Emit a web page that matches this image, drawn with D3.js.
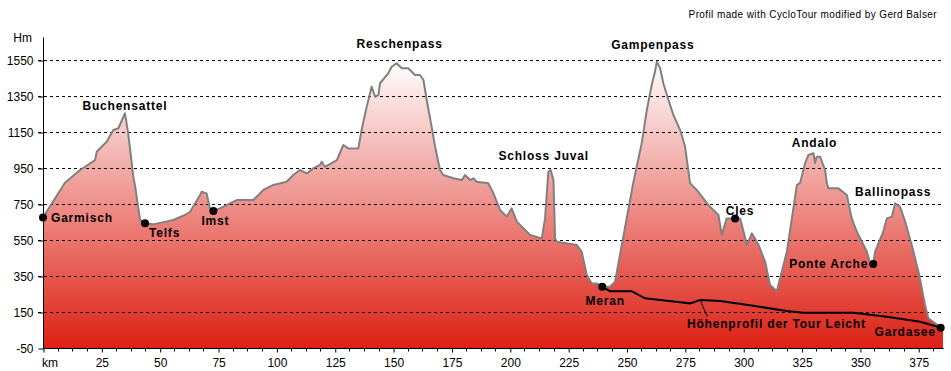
<html>
<script src='https://d3js.org/d3.v7.min.js'></script>
<style>
body { margin: 0; background-color: #ffffff; }
.tick text, .ylab { font: 12px 'Liberation Sans', Arial, sans-serif; fill: #000; }
.place { font: bold 12px 'Liberation Sans', Arial, sans-serif; letter-spacing: 0.8px; fill: #000; }
.credit { font: 10px 'Liberation Sans', Arial, sans-serif; letter-spacing: 0.4px; fill: #000; }
</style>
<body onload='init()'>
<script>

// profile of the tour (km, Hm)
var profKm = [0, 9.4, 15.9, 22.3, 23.0, 27.3, 30.1, 32.3, 35.1, 36.5, 38.7, 39.4, 41.6, 43.7, 47.3, 55.8, 60.8, 63.0, 67.3, 68.0,
  70.1, 71.5, 73.0, 75.8, 83.0, 90.1, 94.4, 98.7, 104.4, 107.2, 110.1, 113.0, 115.8, 118.7, 119.4, 120.8, 125.9, 128.7, 130.8, 135.1,
  136.5, 138.7, 140.8, 142.3, 143.7, 144.4, 147.9, 149.4, 151.5, 153.7, 156.5, 159.4, 161.5, 163.0, 164.4, 166.5, 168.0, 170.1, 171.5, 175.8,
  179.4, 180.8, 183.0, 184.4, 185.8, 190.8, 193.0, 195.8, 198.7, 200.8, 203.0, 208.7, 213.7, 215.1, 216.5, 217.5, 218.7, 219.4, 220.1, 228.7,
  230.8, 233.0, 235.1, 237.3, 239.6, 242.9, 245.1, 247.2, 252.9, 256.5, 258.7, 260.8, 262.2, 263.0, 264.4, 265.8, 268.0, 270.1, 273.0, 275.1,
  277.2, 278.0, 280.1, 285.1, 289.4, 290.8, 292.9, 296.5, 298.7, 301.6, 303.7, 306.6, 309.4, 311.5, 314.4, 315.8, 318.7, 321.5, 323.0, 324.4,
  326.5, 327.9, 330.1, 330.8, 331.5, 332.9, 335.1, 335.8, 336.5, 340.8, 344.4, 346.5, 348.7, 353.0, 354.4, 355.7, 356.5, 360.0, 361.5, 363.7,
  365.1, 367.2, 369.4, 372.2, 375.1, 377.9, 379.3, 384.3, 385.6];
var profElev = [675, 868, 939, 994, 1040, 1096, 1161, 1171, 1254, 1143, 902, 855, 661, 643, 637, 661, 689, 707, 800, 818,
  809, 726, 711, 726, 772, 772, 828, 856, 874, 911, 939, 920, 948, 967, 985, 957, 994, 1078, 1059, 1059,
  1161, 1291, 1402, 1346, 1356, 1421, 1476, 1513, 1532, 1504, 1504, 1467, 1467, 1439, 1328, 1180, 1068, 939, 911, 893,
  883, 911, 883, 893, 874, 865, 809, 717, 680, 726, 652, 578, 559, 670, 929, 939, 883, 559, 541, 522,
  485, 355, 309, 309, 290, 290, 318, 467, 868, 1087, 1272, 1411, 1485, 1541, 1504, 1420, 1328, 1244, 1161, 1068,
  868, 855, 828, 744, 689, 578, 670, 670, 670, 522, 587, 522, 429, 300, 267, 337, 485, 726, 855, 868,
  976, 1022, 1032, 978, 1013, 1013, 939, 868, 837, 837, 800, 670, 596, 485, 420, 417, 485, 596, 670, 680,
  754, 735, 652, 522, 374, 189, 115, 68, 61];

// "Tour Leicht" profile
var lightKm = [239.6, 242.9, 247.2, 252.2, 257.9, 272.9, 277.2, 281.5, 290.1, 304.3, 318.6, 325.7, 347.2, 361.5, 375.8, 384.6];
var lightElev = [290, 266, 266, 266, 226, 204, 198, 217, 211, 185, 155, 146, 146, 124, 96, 63];

// places
var placeNames = ['Garmisch', 'Telfs', 'Imst', 'Meran', 'Cles', 'Ponte Arche', 'Gardasee'];
var placeKm = [0, 43.7, 73.0, 239.6, 296.5, 355.7, 384.6];
var placeElev = [675, 643, 711, 290, 670, 417, 63];

// passes (label only)
var passNames = ['Buchensattel', 'Reschenpass', 'Schloss Juval', 'Gampenpass', 'Andalo', 'Ballinopass'];
var passKm = [35.1, 151.5, 217.5, 263.0, 330.1, 365.1];
var passElev = [1254, 1532, 939, 1541, 1032, 754];

var yTicks = [-50, 150, 350, 550, 750, 950, 1150, 1350, 1550];
var xTicks = [0, 25, 50, 75, 100, 125, 150, 175, 200, 225, 250, 275, 300, 325, 350, 375];

function init() {
  var W = 951, H = 371;
  var x = d3.scaleLinear().domain([0, 385.6]).range([43, 943]);
  var y = d3.scaleLinear().domain([-50, 1678]).range([348, 37]);

  var svg = d3.select('body').append('svg').attr('width', W).attr('height', H);

  var grad = svg.append('defs').append('linearGradient')
    .attr('id', 'fillGrad').attr('gradientUnits', 'userSpaceOnUse')
    .attr('x1', 0).attr('x2', 0).attr('y1', y(1550)).attr('y2', y(-50));
  grad.append('stop').attr('offset', '0%').attr('stop-color', '#ffffff');
  grad.append('stop').attr('offset', '100%').attr('stop-color', '#dd2014');

  var prof = profKm.map(function(k, i) { return [k, profElev[i]]; });
  var light = lightKm.map(function(k, i) { return [k, lightElev[i]]; });

  var area = d3.area().x(function(d) { return x(d[0]); }).y0(y(-50)).y1(function(d) { return y(d[1]); });
  var line = d3.line().x(function(d) { return x(d[0]); }).y(function(d) { return y(d[1]); });

  svg.append('path').attr('d', area(prof)).attr('fill', 'url(#fillGrad)');

  // gridlines
  svg.selectAll('.grid').data(yTicks.slice(1)).enter().append('line')
    .attr('x1', 38).attr('x2', 942)
    .attr('y1', function(d) { return y(d) + 0.5; }).attr('y2', function(d) { return y(d) + 0.5; })
    .attr('stroke', '#000').attr('stroke-width', 1).attr('stroke-dasharray', '3,3');

  svg.append('path').attr('d', line(prof)).attr('fill', 'none')
    .attr('stroke', '#808080').attr('stroke-width', 2).attr('stroke-linejoin', 'round');

  svg.append('path').attr('d', line(light)).attr('fill', 'none')
    .attr('stroke', '#000').attr('stroke-width', 2);

  // y axis
  var yAxis = d3.axisLeft(y).tickValues(yTicks).tickSize(5).tickPadding(5)
    .tickFormat(function(d) { return String(d); });
  var gy = svg.append('g').attr('transform', 'translate(43.5,0.5)').call(yAxis);
  gy.select('.domain').attr('d', 'M0,' + y(1678) + 'V' + y(-50));
  gy.selectAll('.tick text').attr('dy', '0.35em');

  svg.append('text').attr('class', 'ylab').attr('x', 32).attr('y', 38).attr('dy', '0.35em')
    .attr('text-anchor', 'end').text('Hm');

  // x axis
  var xAxis = d3.axisBottom(x).tickValues(xTicks).tickSize(4).tickPadding(6)
    .tickFormat(function(d) { return d === 0 ? 'km' : String(d); });
  var gx = svg.append('g').attr('transform', 'translate(0.5,' + (y(-50) + 0.5) + ')').call(xAxis);
  gx.select('.domain').attr('d', 'M' + x(0) + ',0H' + x(385.6));
  gx.selectAll('.tick text').filter(function(d) { return d === 0; })
    .attr('text-anchor', 'start').attr('x', -2);
  var minor = d3.range(0, 385, 6.25).filter(function(d) { return d % 25 !== 0; });
  gx.selectAll('.minor').data(minor).enter().append('line')
    .attr('x1', function(d) { return Math.round(x(d)); }).attr('x2', function(d) { return Math.round(x(d)); })
    .attr('y1', 0).attr('y2', 3).attr('stroke', '#000');

  // pointer to the Tour Leicht line
  svg.append('line').attr('x1', x(281.5)).attr('y1', y(217)).attr('x2', x(284.6)).attr('y2', y(125))
    .attr('stroke', '#000').attr('stroke-width', 1);
  svg.append('text').attr('class', 'place').attr('x', 687).attr('y', 324).attr('dy', '0.35em')
    .text('Höhenprofil der Tour Leicht');

  // place dots + labels
  var placeLabel = {
    'Garmisch': [8, 0, 'start'], 'Telfs': [4, 10, 'start'], 'Imst': [2, 10, 'middle'],
    'Meran': [3, 14, 'middle'], 'Cles': [5, -8, 'middle'], 'Ponte Arche': [-5, 0, 'end'],
    'Gardasee': [-5, 4, 'end']
  };
  placeNames.forEach(function(n, i) {
    var px = x(placeKm[i]), py = y(placeElev[i]);
    svg.append('circle').attr('cx', px).attr('cy', py).attr('r', 4).attr('fill', '#000');
    var o = placeLabel[n];
    svg.append('text').attr('class', 'place').attr('x', px + o[0]).attr('y', py + o[1])
      .attr('dy', '0.35em').attr('text-anchor', o[2]).text(n);
  });

  var passLabel = {
    'Buchensattel': [0, -8], 'Reschenpass': [3, -19], 'Schloss Juval': [-7, -14],
    'Gampenpass': [-4, -17], 'Andalo': [1, -10], 'Ballinopass': [-2, -11]
  };
  passNames.forEach(function(n, i) {
    var o = passLabel[n];
    svg.append('text').attr('class', 'place').attr('x', x(passKm[i]) + o[0]).attr('y', y(passElev[i]) + o[1])
      .attr('dy', '0.35em').attr('text-anchor', 'middle').text(n);
  });

  svg.append('text').attr('class', 'credit').attr('x', 937).attr('y', 14).attr('dy', '0.35em')
    .attr('text-anchor', 'end').text('Profil made with CycloTour modified by Gerd Balser');
}
</script>
</body>
</html>
